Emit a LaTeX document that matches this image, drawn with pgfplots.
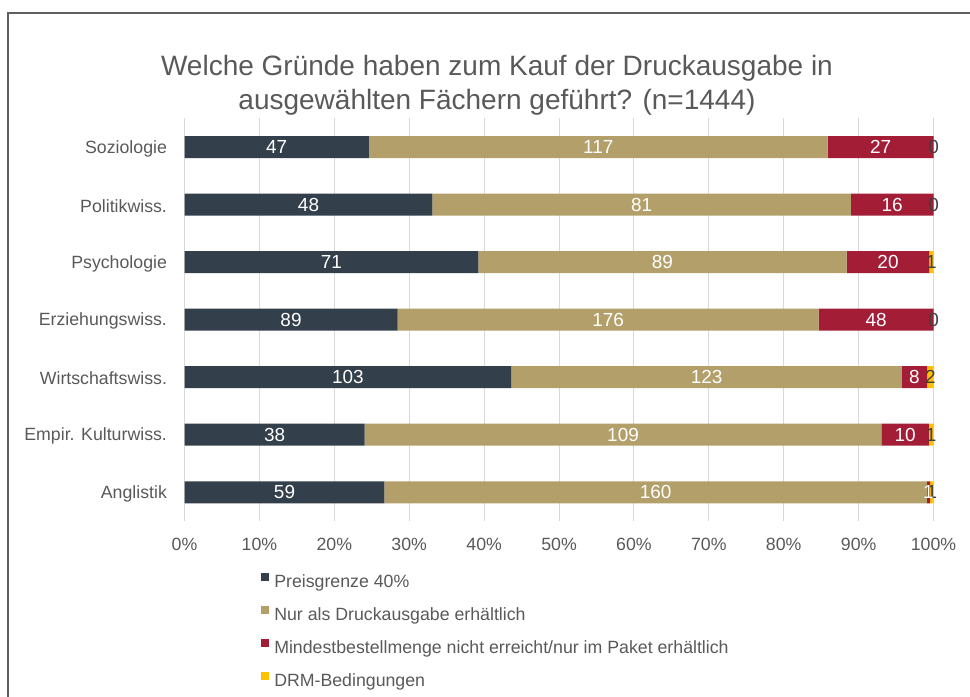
\documentclass[border=0pt]{standalone}
\usepackage{pgfplots}
\pgfplotsset{compat=1.18}
\usepackage{pgfplotstable}
\usepackage{fontspec}
\setmainfont{Liberation Sans}
\definecolor{txt}{HTML}{595959}
\definecolor{c1}{HTML}{333F4B}
\definecolor{c2}{HTML}{B39F6A}
\definecolor{c3}{HTML}{A31D37}
\definecolor{c4}{HTML}{FFC000}
\definecolor{gridc}{HTML}{D9D9D9}
\definecolor{framec}{HTML}{5F5F5F}
\definecolor{lbldark}{HTML}{404040}

% percentages (p) and counts (c); 0 shares are kept as 0.001 so that their "0" label is drawn
\pgfplotstableread{
y p1 c1 p2 c2 p3 c3 p4 c4
0 24.607 47 61.257 117 14.136 27 0.001 0
1 33.103 48 55.862 81 11.034 16 0.001 0
2 39.227 71 49.171 89 11.050 20 0.552 1
3 28.435 89 56.230 176 15.335 48 0.001 0
4 43.644 103 52.119 123 3.390 8 0.847 2
5 24.051 38 68.987 109 6.329 10 0.633 1
6 26.697 59 72.398 160 0.452 1 0.452 1
}\data

\begin{document}
\begin{tikzpicture}
\useasboundingbox (0,0) rectangle (727.5pt,-522pt);
\clip (0,0) rectangle (727.5pt,-522pt);
\draw[framec, line width=1.1pt] (6pt,-600pt) -- (6pt,-9.75pt) -- (800pt,-9.75pt);
\node[txt, align=center, font=\fontsize{21}{25.5}\selectfont] at (372.75pt,-64pt)
  {Welche Gründe haben zum Kauf der Druckausgabe in\\ausgewählten Fächern geführt? (n=1444)};
\begin{axis}[
  at={(138.4pt,-390.75pt)}, anchor=south west,
  width=561.75pt, height=302pt, scale only axis,
  clip=false,
  xbar stacked, bar width=16.5pt,
  xmin=0, xmax=100, ymin=-0.5, ymax=6.5, y dir=reverse,
  xtick={0,10,...,100},
  xticklabels={0\%,10\%,20\%,30\%,40\%,50\%,60\%,70\%,80\%,90\%,100\%},
  ytick={0,...,6},
  yticklabels={Soziologie,Politikwiss.,Psychologie,Erziehungswiss.,Wirtschaftswiss.,Empir. Kulturwiss.,Anglistik},
  xmajorgrids, grid style={gridc, line width=0.75pt},
  axis line style={draw=none},
  major tick length=0pt,
  tick label style={txt, font=\fontsize{13.3}{16}\selectfont},
  yticklabel style={inner sep=0pt, xshift=-13pt, yshift=-1pt},
  xticklabel style={inner sep=0pt, yshift=-12.75pt},
  point meta=explicit symbolic,
  nodes near coords,
  every node near coord/.append style={anchor=center, inner sep=0pt,
     font=\fontsize{14.2}{16}\selectfont, text=white},
  legend cell align=left,
  legend image code/.code={\fill[#1] (0pt,1.5pt) rectangle (6pt,7.5pt);},
  legend style={at={(0.1021,-0.1284)}, anchor=north west, draw=none, fill=none,
     inner sep=0pt, row sep=10.75pt, column sep=3.75pt,
     nodes={inner sep=0pt, text height=10pt, text depth=3pt},
     font=\fontsize{13.3}{16}\selectfont, text=txt},
]
\addplot[fill=c1, draw=none] table[x=p1, y=y, meta=c1] {\data};
\addplot[fill=c2, draw=none] table[x=p2, y=y, meta=c2] {\data};
\addplot[fill=c3, draw=none] table[x=p3, y=y, meta=c3] {\data};
\addplot[fill=c4, draw=none, every node near coord/.append style={text=lbldark}] table[x=p4, y=y, meta=c4] {\data};
\legend{Preisgrenze 40\%, Nur als Druckausgabe erhältlich, Mindestbestellmenge nicht erreicht/nur im Paket erhältlich, DRM-Bedingungen}
\end{axis}
\end{tikzpicture}
\end{document}
